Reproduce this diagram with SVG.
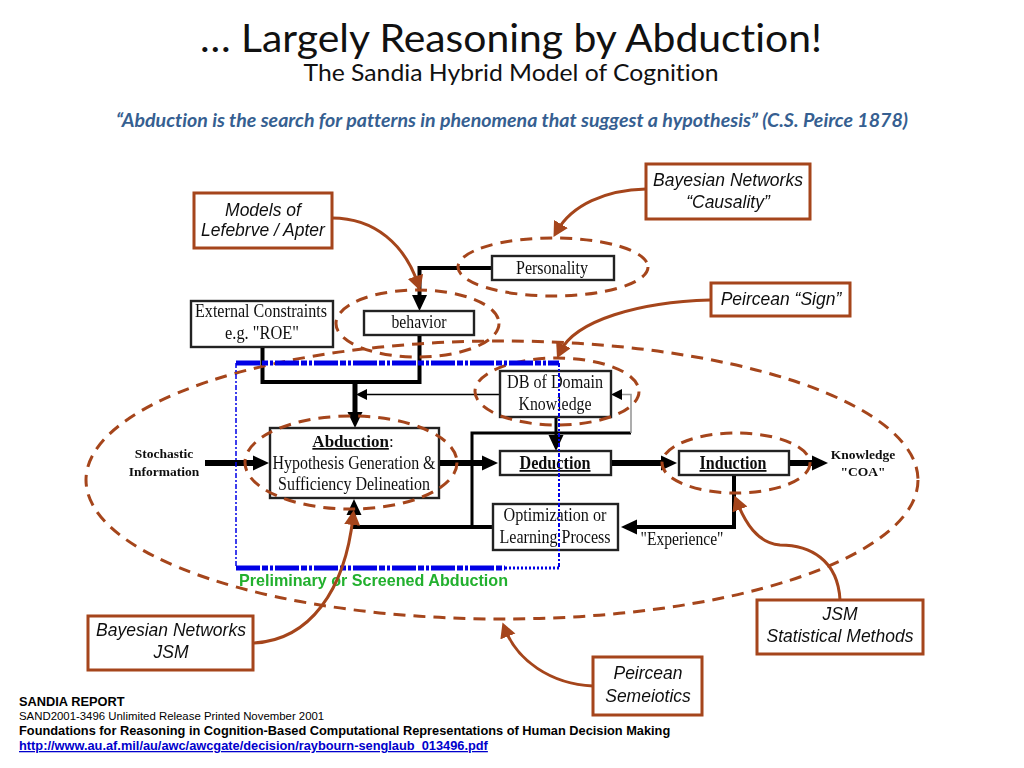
<svg xmlns="http://www.w3.org/2000/svg" width="1024" height="768" viewBox="0 0 1024 768">
<style>
text{font-variant-ligatures:none}
.t{font-family:"Liberation Serif","Times New Roman",serif;fill:#111;text-anchor:middle;font-size:18px}
.s{font-size:13.5px;font-weight:700}
.c{font-family:"Liberation Sans",Arial,sans-serif;font-style:italic;fill:#111;text-anchor:middle;font-size:17.5px}
.r{font-family:"Liberation Sans",Arial,sans-serif;font-size:12.8px;fill:#000}
.box{fill:#fff;stroke:#222;stroke-width:2.4}
.cb{fill:#fff;stroke:#a5451a;stroke-width:3}
.e{fill:none;stroke:#a5451a;stroke-width:3;stroke-dasharray:12 8}
.k{fill:none;stroke:#000;stroke-linejoin:miter}
.b{fill:none;stroke:#a5451a;stroke-width:3}
</style>
<defs>
<filter id="soft" x="0" y="0" width="1024" height="768" filterUnits="userSpaceOnUse"><feGaussianBlur stdDeviation="0.45"/></filter>
<marker id="h" markerUnits="userSpaceOnUse" markerWidth="18" markerHeight="16" refX="4" refY="8" orient="auto"><path d="M0 0.500L16 8L0 15.500z" fill="#000"/></marker>
<marker id="hs" markerUnits="userSpaceOnUse" markerWidth="12" markerHeight="12" refX="3" refY="6" orient="auto"><path d="M0 0.500L11 6L0 11.500z" fill="#000"/></marker>
<marker id="br" markerUnits="userSpaceOnUse" markerWidth="18" markerHeight="18" refX="8" refY="8" orient="auto"><path d="M0 0L15 8L0 16z" fill="#a5451a"/></marker>
</defs>

<g id="title">
<text x="511" y="52" text-anchor="middle" font-family="Lato,'Open Sans',sans-serif" font-size="39" fill="#111" textLength="622" lengthAdjust="spacingAndGlyphs">… Largely Reasoning by Abduction!</text>
<text x="511" y="81" text-anchor="middle" font-family="Lato,'Open Sans',sans-serif" font-size="23" fill="#111" textLength="415" lengthAdjust="spacingAndGlyphs">The Sandia Hybrid Model of Cognition</text>
<text x="512" y="127" text-anchor="middle" font-family="Lato,'Open Sans',sans-serif" font-size="18" font-weight="700" font-style="italic" fill="#365f91" textLength="792" lengthAdjust="spacingAndGlyphs">“Abduction is the search for patterns in phenomena that suggest a hypothesis” (C.S. Peirce 1878)</text>
</g>

<g filter="url(#soft)">
<g id="connectors">
<path class="k" stroke-width="4" d="M492 268H419.500V299" marker-end="url(#h)"/>
<path class="k" stroke-width="4" d="M419.500 335V382H262.500V347"/>
<path class="k" stroke-width="5" d="M355 382V416" marker-end="url(#h)"/>
<path class="k" stroke-width="1.600" d="M500 394.500H364" marker-end="url(#hs)"/>
<path class="k" stroke-width="3" d="M556 417V439" marker-end="url(#h)"/>
<path class="k" stroke-width="3" d="M631 433H472V527"/>
<path fill="none" stroke="#999" stroke-width="1.600" d="M631 433V394.500H619" marker-end="url(#hs)"/>
<path class="k" stroke-width="6" d="M205 463H257" marker-end="url(#h)"/>
<path class="k" stroke-width="6" d="M439 463H486" marker-end="url(#h)"/>
<path class="k" stroke-width="6" d="M611 463H665" marker-end="url(#h)"/>
<path class="k" stroke-width="6" d="M789 463H816" marker-end="url(#h)"/>
<path class="k" stroke-width="4" d="M734 475V527H633" marker-end="url(#h)"/>
<path class="k" stroke-width="4" d="M493 527H354V511" marker-end="url(#h)"/>
</g>

<g id="node-personality"><rect class="box" x="492" y="256" width="122" height="24"/><text class="t" x="552" y="274" textLength="72" lengthAdjust="spacingAndGlyphs">Personality</text></g>
<g id="node-behavior"><rect class="box" x="364" y="311" width="110" height="24"/><text class="t" x="419" y="328" textLength="55" lengthAdjust="spacingAndGlyphs">behavior</text></g>
<g id="node-external"><rect class="box" x="191" y="301" width="142" height="46"/><text class="t" x="261" y="317" textLength="132" lengthAdjust="spacingAndGlyphs">External Constraints</text><text class="t" x="262" y="339" textLength="74" lengthAdjust="spacingAndGlyphs">e.g. "ROE"</text></g>
<g id="node-db"><rect class="box" x="500" y="371" width="111" height="46"/><text class="t" x="555" y="388" textLength="96" lengthAdjust="spacingAndGlyphs">DB of Domain</text><text class="t" x="555" y="410" textLength="73" lengthAdjust="spacingAndGlyphs">Knowledge</text></g>
<g id="node-abduction"><rect class="box" x="270" y="428" width="169" height="70"/>
<text class="t" x="353" y="447" style="font-size:17px"><tspan font-weight="700" text-decoration="underline">Abduction</tspan>:</text>
<text class="t" x="354" y="469" textLength="163" lengthAdjust="spacingAndGlyphs">Hypothesis Generation &amp;</text><text class="t" x="354" y="490" textLength="152" lengthAdjust="spacingAndGlyphs">Sufficiency Delineation</text></g>
<g id="node-deduction"><rect class="box" x="500" y="451" width="111" height="24"/><text class="t" x="555" y="469" font-weight="700" text-decoration="underline" textLength="71" lengthAdjust="spacingAndGlyphs">Deduction</text></g>
<g id="node-induction"><rect class="box" x="679" y="451" width="110" height="24"/><text class="t" x="733" y="469" font-weight="700" text-decoration="underline" textLength="67" lengthAdjust="spacingAndGlyphs">Induction</text></g>
<g id="node-optimization"><rect class="box" x="493" y="504" width="125" height="46"/><text class="t" x="555" y="521" textLength="103" lengthAdjust="spacingAndGlyphs">Optimization or</text><text class="t" x="555" y="543" textLength="111" lengthAdjust="spacingAndGlyphs">Learning Process</text></g>
<g id="node-stochastic"><text class="t s" x="164" y="458">Stochastic</text><text class="t s" x="164" y="476">Information</text></g>
<g id="node-knowledge"><text class="t s" x="863" y="459">Knowledge</text><text class="t s" x="863" y="476">"COA"</text></g>
<text class="t" x="682" y="545" textLength="83" lengthAdjust="spacingAndGlyphs">"Experience"</text>

<g id="regions">
<ellipse class="e" cx="553" cy="267" rx="95" ry="29"/>
<ellipse class="e" cx="417.500" cy="323.500" rx="81.500" ry="33.500"/>
<ellipse class="e" cx="557" cy="391.500" rx="82" ry="33.500"/>
<ellipse class="e" cx="351" cy="462.500" rx="106" ry="46.500"/>
<ellipse class="e" cx="736" cy="463" rx="74" ry="30"/>
<ellipse class="e" cx="502" cy="480" rx="416" ry="139"/>
</g>

<g id="screen">
<path fill="none" stroke="#0000e6" stroke-width="5" stroke-dasharray="24 2 6 2 3 2" d="M236 363H559"/>
<path fill="none" stroke="#0000e6" stroke-width="5" stroke-dasharray="24 2 6 2 3 2" d="M236 568H505"/>
<path fill="none" stroke="#0000e6" stroke-width="3" stroke-dasharray="2 2" d="M505 568H559"/>
<path fill="none" stroke="#0000e6" stroke-width="1.500" stroke-dasharray="5 2 2 2" d="M236 363V568"/>
<path fill="none" stroke="#0000e6" stroke-width="2" stroke-dasharray="4 2 2 2" d="M559 363V568"/>
<text x="239" y="586" font-family="'Liberation Sans',Arial,sans-serif" font-size="16.500" font-weight="700" fill="#22b02e" textLength="269" lengthAdjust="spacingAndGlyphs">Preliminary or Screened Abduction</text>
</g>

<g id="callout-links">
<path class="b" d="M332 218C375 218 405 245 418 284" marker-end="url(#br)"/>
<path class="b" d="M646 189C605 190 572 205 557 231" marker-end="url(#br)"/>
<path class="b" d="M710 300C640 302 575 320 560 352" marker-end="url(#br)"/>
<path class="b" d="M254 643C310 640 345 590 353 517" marker-end="url(#br)"/>
<path class="b" d="M593 686C550 684 517 660 505 629" marker-end="url(#br)"/>
<path class="b" d="M840 600C838 560 810 545 780 545C757 543 745 522 737 502" marker-end="url(#br)"/>
</g>

<g id="callout-models"><rect class="cb" x="194" y="193" width="138" height="55"/><text class="c" x="263" y="216">Models of</text><text class="c" x="263" y="236">Lefebrve / Apter</text></g>
<g id="callout-causality"><rect class="cb" x="646" y="164" width="164" height="55"/><text class="c" x="728" y="186">Bayesian Networks</text><text class="c" x="728" y="208">“Causality”</text></g>
<g id="callout-sign"><rect class="cb" x="711" y="283" width="139" height="33"/><text class="c" x="781" y="305">Peircean “Sign”</text></g>
<g id="callout-bjsm"><rect class="cb" x="88" y="616" width="165" height="54"/><text class="c" x="171" y="636">Bayesian Networks</text><text class="c" x="171" y="658">JSM</text></g>
<g id="callout-jsm"><rect class="cb" x="757" y="600" width="166" height="54"/><text class="c" x="840" y="620">JSM</text><text class="c" x="840" y="642">Statistical Methods</text></g>
<g id="callout-semeiotics"><rect class="cb" x="593" y="657" width="109" height="58"/><text class="c" x="648" y="679">Peircean</text><text class="c" x="648" y="702">Semeiotics</text></g>
</g>

<g id="reference">
<text class="r" x="19" y="706" font-weight="700">SANDIA REPORT</text>
<text class="r" x="19" y="720" style="font-size:11.400px">SAND2001-3496 Unlimited Release Printed November 2001</text>
<text class="r" x="19" y="735" font-weight="700">Foundations for Reasoning in Cognition-Based Computational Representations of Human Decision Making</text>
<text class="r" x="19" y="750" font-weight="700" style="fill:#0000cc" text-decoration="underline">http://www.au.af.mil/au/awc/awcgate/decision/raybourn-senglaub_013496.pdf</text>
</g>
</svg>
